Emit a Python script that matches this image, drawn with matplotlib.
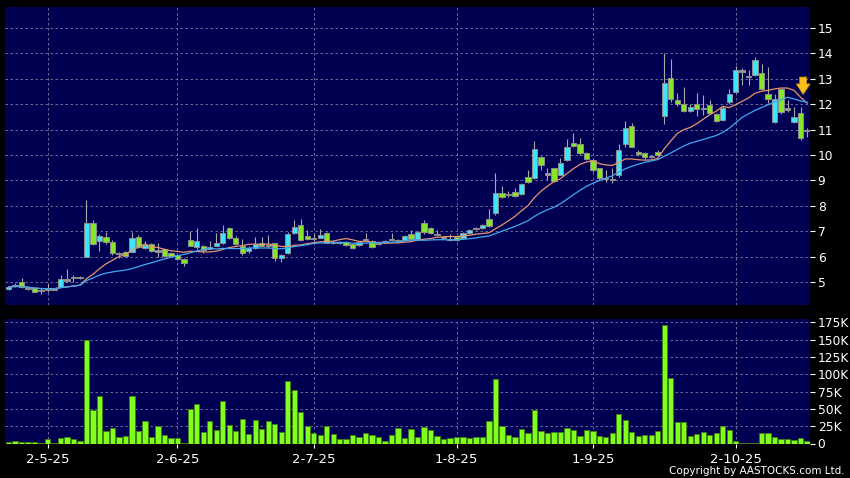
import numpy as np
import pandas as pd
import matplotlib
matplotlib.use("Agg")
import matplotlib.pyplot as plt

# daily candles, 23 Apr 2025 .. 17 Oct 2025 (index = trading day)
opens = [4.72, 4.87, 5.01, 4.78, 4.75, 4.65, 4.71, 4.72, 4.81, 5.08,
         5.18, 5.18, 5.97, 7.31, 6.60, 6.78, 6.56, 6.13, 6.17, 6.19,
         6.78, 6.33, 6.48, 6.22, 6.29, 6.13, 6.05, 5.89, 6.64, 6.36,
         6.40, 6.30, 6.42, 6.52, 7.11, 6.72, 6.42, 6.23, 6.33, 6.52,
         6.45, 6.52, 5.93, 6.13, 6.92, 7.24, 6.81, 6.72, 6.74, 6.92,
         6.56, 6.57, 6.57, 6.48, 6.45, 6.67, 6.63, 6.52, 6.59, 6.67,
         6.62, 6.65, 6.88, 6.69, 7.31, 7.11, 6.86, 6.74, 6.68, 6.76,
         6.72, 6.94, 7.10, 7.14, 7.48, 7.70, 8.52, 8.43, 8.53, 8.46,
         9.12, 9.08, 9.91, 9.25, 9.47, 9.21, 9.80, 10.46, 10.42, 10.07,
         9.80, 9.47, 9.08, 9.05, 9.21, 10.43, 11.14, 10.13, 10.09, 9.93,
         10.13, 11.54, 13.02, 12.17, 12.00, 11.75, 12.00, 11.84, 11.97, 11.62,
         11.38, 12.10, 12.49, 13.31, 13.08, 13.15, 13.22, 12.40, 11.31, 12.59,
         11.81, 11.31, 11.64, 10.96]
highs = [4.85, 4.95, 5.14, 4.82, 4.78, 4.75, 4.94, 4.76, 5.27, 5.50,
         5.27, 5.22, 8.23, 7.44, 6.90, 6.98, 6.65, 6.20, 6.22, 6.98,
         6.85, 6.60, 6.55, 6.52, 6.35, 6.18, 6.10, 5.93, 7.01, 7.11,
         6.45, 6.60, 6.92, 7.24, 7.15, 6.81, 6.68, 6.40, 6.78, 6.78,
         6.85, 6.55, 6.10, 6.95, 7.44, 7.47, 7.05, 6.92, 7.10, 6.95,
         6.65, 6.62, 6.60, 6.50, 6.62, 6.92, 6.66, 6.60, 6.65, 6.94,
         6.68, 6.85, 7.05, 7.00, 7.45, 7.15, 7.05, 6.82, 6.90, 6.80,
         6.95, 7.10, 7.15, 7.30, 7.86, 9.28, 8.80, 8.60, 8.70, 8.90,
         9.40, 10.56, 9.95, 9.48, 9.50, 9.90, 10.65, 10.85, 10.66, 10.10,
         9.85, 9.50, 9.40, 9.48, 10.45, 11.35, 11.25, 10.20, 10.12, 10.00,
         10.20, 14.00, 13.80, 12.43, 12.69, 12.00, 12.43, 12.36, 12.16, 11.65,
         11.97, 12.60, 13.50, 13.41, 13.35, 13.85, 13.58, 13.48, 12.40, 12.65,
         12.16, 11.90, 11.90, 11.05]
lows = [4.70, 4.80, 4.78, 4.70, 4.60, 4.53, 4.62, 4.70, 4.79, 5.01,
        5.01, 5.10, 5.97, 6.45, 6.22, 6.50, 6.07, 5.93, 6.00, 6.17,
        6.33, 6.30, 6.20, 6.00, 6.00, 6.00, 5.86, 5.63, 6.40, 6.30,
        6.13, 6.28, 6.40, 6.50, 6.70, 6.45, 6.06, 6.15, 6.30, 6.40,
        6.33, 5.84, 5.80, 6.10, 6.90, 6.60, 6.65, 6.60, 6.72, 6.52,
        6.50, 6.50, 6.42, 6.30, 6.40, 6.60, 6.33, 6.45, 6.55, 6.60,
        6.55, 6.60, 6.65, 6.65, 6.90, 6.88, 6.80, 6.70, 6.62, 6.60,
        6.70, 6.90, 7.05, 7.10, 7.18, 7.65, 8.30, 8.35, 8.35, 8.42,
        8.88, 9.05, 9.40, 9.02, 8.95, 9.20, 9.75, 10.30, 10.00, 9.80,
        9.35, 9.00, 8.95, 8.90, 9.15, 10.30, 10.30, 9.98, 9.85, 9.88,
        9.95, 11.24, 12.10, 11.95, 11.70, 11.70, 11.54, 11.58, 11.60, 11.30,
        11.35, 12.00, 12.45, 12.76, 12.76, 13.10, 12.55, 12.03, 11.25, 11.60,
        11.70, 11.28, 10.60, 10.72]
closes = [4.80, 4.85, 4.81, 4.72, 4.62, 4.65, 4.71, 4.72, 5.10, 5.08,
          5.18, 5.18, 7.31, 6.48, 6.82, 6.56, 6.13, 6.13, 6.02, 6.72,
          6.36, 6.44, 6.22, 6.22, 6.04, 6.02, 5.89, 5.76, 6.43, 6.60,
          6.26, 6.39, 6.55, 6.92, 6.72, 6.50, 6.15, 6.35, 6.50, 6.43,
          6.45, 5.93, 6.06, 6.88, 7.18, 6.65, 6.68, 6.72, 6.85, 6.55,
          6.56, 6.57, 6.47, 6.35, 6.58, 6.67, 6.39, 6.52, 6.59, 6.67,
          6.62, 6.80, 6.69, 6.95, 6.96, 6.92, 6.86, 6.74, 6.68, 6.65,
          6.92, 7.05, 7.10, 7.24, 7.21, 8.52, 8.33, 8.43, 8.39, 8.86,
          8.92, 10.22, 9.59, 9.25, 8.99, 9.70, 10.33, 10.36, 10.07, 9.83,
          9.41, 9.08, 9.08, 9.05, 10.20, 11.05, 10.33, 10.04, 9.91, 9.93,
          10.00, 12.82, 12.19, 12.00, 11.73, 11.90, 11.81, 11.84, 11.64, 11.34,
          11.84, 12.40, 13.35, 13.31, 13.08, 13.74, 12.59, 12.19, 12.19, 11.71,
          11.81, 11.48, 10.66, 10.96]
volume_k = [1.5, 3.4, 2, 2, 1.5, 1, 6.7, 0.5, 8.2, 9.6,
            5.8, 4.3, 149, 48, 69, 18, 23, 10, 11, 68,
            18, 32, 8.7, 26, 12, 7.7, 7.7, 0.8, 50, 57,
            16, 32, 20, 62, 27, 18, 35, 13.5, 34, 21,
            32, 28, 16, 91, 78, 46, 25, 14.5, 12, 25,
            13.5, 5.8, 5.8, 12, 9.6, 14.5, 11.6, 9.6, 3.9, 12,
            21.7, 8.2, 21, 9.6, 23.6, 19, 10.6, 6.3, 8.2, 9.6,
            10, 7.7, 9.6, 9.6, 32, 93, 26, 13, 9.6, 20.7,
            15.4, 48, 18, 14.5, 16.4, 16.4, 23, 19, 11, 19,
            17.8, 10.6, 8.7, 14.5, 43, 34, 16.4, 11, 11.6, 12.5,
            18, 171, 94, 31, 31, 10.6, 13.5, 16.9, 11.6, 14.5,
            24.6, 19.3, 3.9, 1.4, 1.4, 1.4, 15, 14.5, 9.6, 7.2,
            6.8, 4.8, 7.7, 2.9]

date_ticks = [6, 26, 47, 69, 90, 112]
date_labels = ["2-5-25", "2-6-25", "2-7-25", "1-8-25", "1-9-25", "2-10-25"]
price_ticks = [5, 6, 7, 8, 9, 10, 11, 12, 13, 14, 15]
vol_ticks = [0, 25, 50, 75, 100, 125, 150, 175]

NAVY = "#000052"
GRID = "#7c7ca6"
UP = "#3ee4fa"
DOWN = "#84e626"
FLAT = "#9a9a9a"

o = np.array(opens)
h = np.array(highs)
l = np.array(lows)
c = np.array(closes)
x = np.arange(len(c))

ma10 = pd.Series(c).rolling(10, min_periods=1).mean()
ma20 = pd.Series(c).rolling(20, min_periods=1).mean()

W, H = 850, 478
fig = plt.figure(figsize=(W / 100, H / 100), dpi=100, facecolor="black")
ax = fig.add_axes([5 / W, 1 - 305 / H, 805 / W, 298 / H], facecolor=NAVY)
axv = fig.add_axes([5 / W, 1 - 443.5 / H, 805 / W, 124.5 / H], facecolor=NAVY, sharex=ax)

for a in (ax, axv):
    for s in a.spines.values():
        s.set_visible(False)
    a.grid(True, color=GRID, linestyle=(0, (3, 3)), linewidth=0.6)
    a.set_axisbelow(True)
    a.yaxis.tick_right()
    a.tick_params(axis="y", colors="white", length=3.5, width=0.8, labelsize=8.8, pad=2)

# candles
wick_col = "#a8a8a8"
ax.vlines(x, l, h, color=wick_col, linewidth=0.8, zorder=2)
bottoms = np.minimum(o, c)
heights = np.abs(c - o)
flat = heights < 0.005
heights = np.where(flat, 0.045, heights)
bottoms = np.where(flat, o - 0.022, bottoms)
cols = np.where(c > o, UP, np.where(c < o, DOWN, FLAT))
ax.bar(x, heights, bottom=bottoms, width=0.82, color=cols, edgecolor="#8e8e8e",
       linewidth=0.7, zorder=3)

ax.plot(x, ma10, color="#e8946e", linewidth=0.9, zorder=4)
ax.plot(x, ma20, color="#40a8f0", linewidth=0.9, zorder=4)

ax.annotate("", xy=(122.4, 12.28), xytext=(122.4, 13.18),
            arrowprops=dict(arrowstyle="simple,head_width=1.0,head_length=0.75,tail_width=0.5",
                            fc="#ffbf1e", ec="#c88a00", lw=0.6), zorder=6)

ax.set_ylim(4.094, 15.83)
ax.set_yticks(price_ticks)
ax.set_yticklabels([str(t) for t in price_ticks])
ax.set_xlim(-0.55, 123.45)
ax.set_xticks(date_ticks)
ax.tick_params(axis="x", which="both", length=0, labelbottom=False)

# volume
axv.bar(x, volume_k, width=0.82, color="#80ff1e", edgecolor="#3f8010", linewidth=0.6, zorder=3)
axv.set_ylim(0, 180)
axv.set_yticks(vol_ticks)
axv.set_yticklabels(["0"] + [f"{v}K" for v in vol_ticks[1:]])
axv.set_xticks(date_ticks)
axv.set_xticklabels(date_labels)
axv.tick_params(axis="x", colors="white", length=3, width=0.8, labelsize=9.5, pad=4)

fig.text(845 / W, 1 - 471 / H, "Copyright by AASTOCKS.com Ltd.", color="white",
         fontsize=7.5, ha="right", va="center")

fig.savefig("out.png", dpi=100, facecolor="black")
